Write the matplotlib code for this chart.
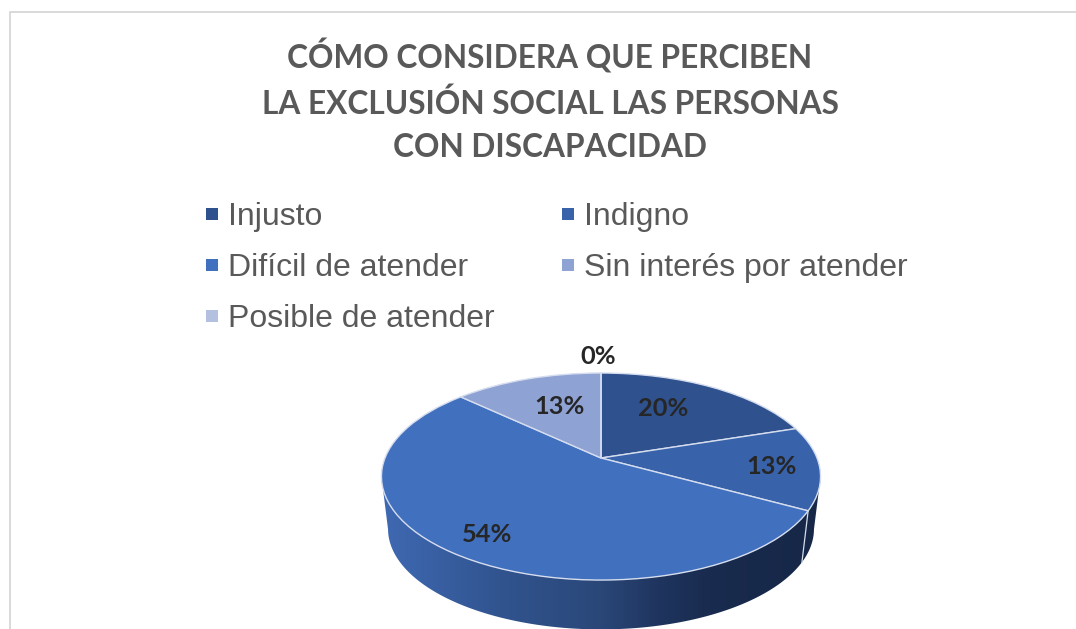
"""3D style pie chart: perception of social exclusion."""

import numpy as np
import matplotlib
matplotlib.use("Agg")
import matplotlib.pyplot as plt
from matplotlib.colors import LinearSegmentedColormap
from matplotlib.lines import Line2D
from matplotlib.patches import Polygon
from matplotlib.transforms import Transform

categories = ["Injusto", "Indigno", "Difícil de atender", "Sin interés por atender", "Posible de atender"]
percentages = [20, 13, 54, 13, 0]
colors = ["#2F528F", "#3862AA", "#4170BF", "#8FA2D4", "#B4C0E0"]
title_text = "CÓMO CONSIDERA QUE PERCIBEN\nLA EXCLUSIÓN SOCIAL LAS PERSONAS\nCON DISCAPACIDAD"

# where each percent label sits, in picture pixels
label_pos = [(663, 409), (771, 467), (487, 534), (559, 407), (598, 357)]

# pie tilt, fitted to the picture
CX, CY = 601, 458
SX, SY, K = 216, 100.2, 0.179
DEPTH, BOTTOM_SCALE = 53, 0.97


class Tilt(Transform):
    """Perspective view of a flat unit disc, result in picture pixels."""
    input_dims = 2
    output_dims = 2
    is_separable = False
    has_inverse = False

    def __init__(self, scale=1.0, shift=0.0):
        super().__init__()
        self.scale = scale
        self.shift = shift

    def transform_non_affine(self, values):
        v = np.asarray(values, dtype=float)
        w = 1 + K * v[:, 1]
        px = CX + self.scale * SX * v[:, 0] / w
        py = CY + self.shift - self.scale * SY * v[:, 1] / w
        return np.column_stack([px, py])


def side_outline():
    """Outer outline of the top and bottom discs, as pixel points."""
    t = np.linspace(0, 2 * np.pi, 721)
    circle = np.column_stack([np.cos(t), np.sin(t)])
    top = Tilt().transform(circle)
    bottom = Tilt(BOTTOM_SCALE, DEPTH).transform(circle)
    # front half of the wall: rim from left to right, then the lower disc back
    left_i = np.argmin(top[:, 0])
    right_i = np.argmax(top[:, 0])
    left_b = np.argmin(bottom[:, 0])
    right_b = np.argmax(bottom[:, 0])
    top_front = np.roll(top, -left_i, axis=0)[:((right_i - left_i) % 720) + 1]
    bottom_front = np.roll(bottom, -left_b, axis=0)[:((right_b - left_b) % 720) + 1]
    return np.vstack([top_front, bottom_front[::-1]])


def main():
    fig = plt.figure(figsize=(10.76, 6.29), dpi=100)
    ax = fig.add_axes([0, 0, 1, 1])

    # wall of the pie with its dark gradient
    side_cmap = LinearSegmentedColormap.from_list(
        "side", [(0, "#3F69B3"), (0.27, "#31548F"), (0.5, "#2A4778"),
                 (0.63, "#1F355F"), (0.75, "#192B4E"), (1, "#162747")])
    wall = ax.imshow(np.linspace(0, 1, 256).reshape(1, -1), cmap=side_cmap, aspect="auto",
                     extent=(381, 821, 640, 470), zorder=1)
    wall.set_clip_path(Polygon(side_outline(), transform=ax.transData))

    wedges, _ = ax.pie(percentages, colors=colors, startangle=90, counterclock=False,
                       wedgeprops={"edgecolor": "#D5DDEE", "linewidth": 1.0, "zorder": 2})
    tilt = Tilt()
    for wedge in wedges:
        wedge.set_transform(tilt + ax.transData)

    # seam where the 54% wall meets the 13% wall
    seam = np.array([[np.sin(2 * np.pi * 0.33), np.cos(2 * np.pi * 0.33)]])
    p0 = Tilt().transform(seam)[0]
    p1 = Tilt(BOTTOM_SCALE, DEPTH).transform(seam)[0]
    ax.plot([p0[0], p1[0]], [p0[1], p1[1]], color="#D5DDEE", lw=0.9, zorder=1.5)

    ax.set_aspect("auto")
    ax.set_xlim(0, 1076)
    ax.set_ylim(629, 0)
    ax.axis("off")

    # chart frame, cut by the picture on the right and at the bottom
    ax.plot([9.5, 9.5, 1076], [629, 12, 12], color="#D9D9D9", lw=1.4, zorder=0)

    ax.text(550, 100.5, title_text, ha="center", va="center", family="Lato", weight="bold",
            fontsize=22.8, color="#595959", linespacing=1.585, zorder=5)

    for value, (x, y) in zip(percentages, label_pos):
        ax.text(x, y, f"{value}%", ha="center", va="center", family="Lato", weight="bold",
                fontsize=18.3, color="#262626", zorder=5)

    # legend fills by column, so the two rows read left to right as in the chart
    order = [0, 2, 4, 1, 3]
    handles = [Line2D([], [], ls="none", marker="s", ms=8, mew=0, color=colors[i]) for i in order]
    ax.legend(handles, [categories[i] for i in order], ncol=2, frameon=False,
              loc="upper left", bbox_to_anchor=(204, 202), bbox_transform=ax.transData,
              prop={"family": "Liberation Sans", "size": 23}, labelcolor="#595959",
              handlelength=0.5, handletextpad=0.25, columnspacing=2.06, labelspacing=0.656,
              borderpad=0, borderaxespad=0)

    fig.savefig("out.png", dpi=100)
    plt.close(fig)


if __name__ == "__main__":
    main()
